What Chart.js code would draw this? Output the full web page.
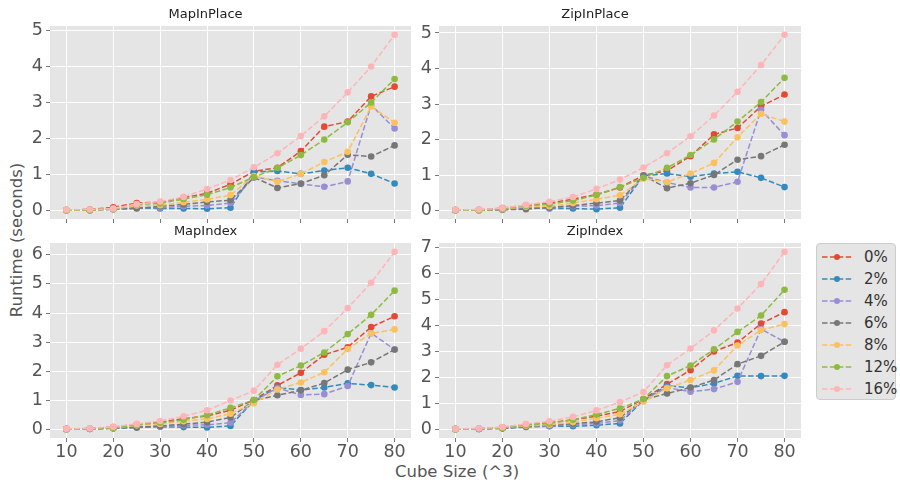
<!DOCTYPE html>
<html>
<head>
<meta charset="utf-8">
<script src="https://cdn.jsdelivr.net/npm/chart.js@4/dist/chart.umd.min.js"></script>
<style>
  body { margin: 0; background: #fff; font-family: 'DejaVu Sans', sans-serif; }
  #fig { position: relative; width: 900px; height: 488px; overflow: hidden; }
  #fig canvas { position: absolute; }
  .label { position: absolute; color: #555; font-size: 16.5px; white-space: nowrap; }
  #ylabel { left: 16px; top: 240px; transform: translate(-50%, -50%) rotate(-90deg); }
  #xlabel { left: 457px; top: 471px; transform: translate(-50%, -50%); }
  #legend { position: absolute; left: 816px; top: 243px; width: 80px; height: 157px;
            background: #E5E5E5; border: 1px solid #ccc; border-radius: 4px; box-sizing: border-box; }
  .row { position: absolute; left: 5px; height: 20px; display: flex; align-items: center; }
  .row span { margin-left: 12px; font-size: 15px; color: #333; }
</style>
</head>
<body>
<div id="fig">
  <div class="label" id="ylabel">Runtime (seconds)</div>
  <div class="label" id="xlabel">Cube Size (^3)</div>
  <div id="legend"></div>
</div>
<script>
// cube sizes on the x axis
const sizes = [10, 15, 20, 25, 30, 35, 40, 45, 50, 55, 60, 65, 70, 75, 80];
const xTicks = [10, 20, 30, 40, 50, 60, 70, 80];
const seriesNames = ['0%', '2%', '4%', '6%', '8%', '12%', '16%'];
const colors = ['#E24A33', '#348ABD', '#988ED5', '#777777', '#FBC15E', '#8EBA42', '#FFB5B8'];

// runtimes, one row per series (same order as seriesNames)
const mapInPlace = [
  [0.03, 0.04, 0.10, 0.22, 0.24, 0.37, 0.49, 0.74, 1.10, 1.20, 1.66, 2.34, 2.48, 3.18, 3.45],
  [0.02, 0.02, 0.05, 0.08, 0.07, 0.07, 0.06, 0.09, 1.08, 1.11, 1.03, 1.12, 1.20, 1.03, 0.76],
  [0.02, 0.02, 0.05, 0.10, 0.09, 0.13, 0.15, 0.22, 0.94, 0.84, 0.75, 0.67, 0.82, 2.94, 2.29],
  [0.02, 0.02, 0.05, 0.07, 0.13, 0.18, 0.25, 0.30, 0.93, 0.64, 0.76, 0.99, 1.56, 1.51, 1.82],
  [0.02, 0.02, 0.05, 0.15, 0.16, 0.24, 0.32, 0.44, 0.97, 0.81, 1.03, 1.36, 1.64, 2.90, 2.45],
  [0.02, 0.02, 0.07, 0.18, 0.21, 0.33, 0.45, 0.65, 0.94, 1.19, 1.55, 1.98, 2.46, 3.01, 3.66],
  [0.03, 0.04, 0.07, 0.19, 0.26, 0.39, 0.61, 0.86, 1.21, 1.60, 2.08, 2.63, 3.29, 4.01, 4.89]
];
const zipInPlace = [
  [0.03, 0.03, 0.08, 0.16, 0.22, 0.33, 0.46, 0.66, 1.00, 1.13, 1.54, 2.15, 2.33, 2.94, 3.27],
  [0.02, 0.02, 0.05, 0.08, 0.07, 0.07, 0.05, 0.09, 0.99, 1.05, 0.96, 1.05, 1.10, 0.93, 0.67],
  [0.02, 0.02, 0.05, 0.10, 0.08, 0.13, 0.15, 0.22, 0.99, 0.80, 0.66, 0.66, 0.82, 2.84, 2.13],
  [0.02, 0.02, 0.03, 0.05, 0.10, 0.15, 0.22, 0.29, 0.99, 0.64, 0.78, 1.01, 1.44, 1.54, 1.86],
  [0.02, 0.02, 0.05, 0.12, 0.13, 0.22, 0.33, 0.44, 0.91, 0.81, 1.05, 1.35, 2.07, 2.73, 2.51],
  [0.02, 0.02, 0.06, 0.14, 0.19, 0.29, 0.45, 0.67, 0.93, 1.21, 1.57, 2.01, 2.51, 3.06, 3.74],
  [0.03, 0.04, 0.08, 0.17, 0.26, 0.39, 0.62, 0.88, 1.22, 1.62, 2.10, 2.68, 3.35, 4.10, 4.95]
];
const mapIndex = [
  [0.03, 0.04, 0.09, 0.18, 0.26, 0.38, 0.47, 0.67, 1.02, 1.52, 1.95, 2.57, 2.83, 3.52, 3.89],
  [0.02, 0.03, 0.05, 0.08, 0.10, 0.09, 0.08, 0.13, 1.00, 1.45, 1.36, 1.45, 1.59, 1.53, 1.45],
  [0.02, 0.03, 0.05, 0.10, 0.11, 0.15, 0.17, 0.24, 0.99, 1.43, 1.19, 1.22, 1.50, 3.31, 2.75],
  [0.02, 0.03, 0.05, 0.08, 0.13, 0.19, 0.26, 0.42, 1.00, 1.18, 1.35, 1.60, 2.06, 2.31, 2.75],
  [0.02, 0.03, 0.06, 0.15, 0.20, 0.29, 0.37, 0.55, 0.91, 1.38, 1.62, 1.97, 2.77, 3.30, 3.44],
  [0.02, 0.03, 0.07, 0.17, 0.24, 0.34, 0.50, 0.75, 1.02, 1.83, 2.20, 2.65, 3.28, 3.94, 4.77],
  [0.03, 0.05, 0.10, 0.20, 0.30, 0.46, 0.67, 1.00, 1.34, 2.23, 2.78, 3.38, 4.17, 5.04, 6.10]
];
const zipIndex = [
  [0.03, 0.04, 0.09, 0.20, 0.27, 0.38, 0.52, 0.70, 1.18, 1.75, 2.29, 3.01, 3.35, 4.08, 4.52],
  [0.02, 0.03, 0.05, 0.10, 0.13, 0.13, 0.17, 0.24, 1.14, 1.69, 1.61, 1.78, 2.07, 2.06, 2.07],
  [0.02, 0.03, 0.06, 0.12, 0.14, 0.19, 0.24, 0.35, 1.14, 1.62, 1.46, 1.56, 1.84, 3.87, 3.38],
  [0.02, 0.03, 0.05, 0.12, 0.17, 0.23, 0.30, 0.46, 1.15, 1.39, 1.62, 1.91, 2.52, 2.84, 3.38],
  [0.02, 0.03, 0.07, 0.15, 0.19, 0.29, 0.44, 0.59, 1.08, 1.59, 1.91, 2.28, 3.24, 3.83, 4.06],
  [0.02, 0.03, 0.08, 0.18, 0.24, 0.38, 0.58, 0.82, 1.18, 2.06, 2.47, 3.09, 3.76, 4.39, 5.38],
  [0.03, 0.05, 0.10, 0.22, 0.32, 0.49, 0.74, 1.06, 1.45, 2.48, 3.12, 3.82, 4.66, 5.60, 6.84]
];

const yTicksInPlace = [0, 1, 2, 3, 4, 5];
const yTicksMapIndex = [0, 1, 2, 3, 4, 5, 6];
const yTicksZipIndex = [0, 1, 2, 3, 4, 5, 6, 7];

// gray panel background like the ggplot style
const panelBg = {
  id: 'panelBg',
  beforeDraw(chart) {
    const a = chart.chartArea;
    const ctx = chart.ctx;
    ctx.save();
    ctx.fillStyle = '#E5E5E5';
    ctx.fillRect(a.left, a.top, a.right - a.left, a.bottom - a.top);
    ctx.restore();
  }
};

const Y_W = 50, TITLE_H = 24, X_H = 30, PAD_R = 20;

function makePanel(title, rows, yTicks, box, showX) {
  const fig = document.getElementById('fig');
  const cv = document.createElement('canvas');
  const w = box.x1 - box.x0 + Y_W + PAD_R;
  const h = box.y1 - box.y0 + TITLE_H + X_H;
  cv.width = w; cv.height = h;
  cv.style.left = (box.x0 - Y_W) + 'px';
  cv.style.top = (box.y0 - TITLE_H) + 'px';
  cv.style.width = w + 'px'; cv.style.height = h + 'px';
  fig.appendChild(cv);

  // autoscale with 5% margins
  const all = rows.flat();
  const lo = Math.min(...all), hi = Math.max(...all);
  const m = (hi - lo) * 0.05;
  const xm = (sizes[sizes.length - 1] - sizes[0]) * 0.05;

  const datasets = rows.map((vals, i) => ({
    label: seriesNames[i],
    data: vals.map((v, j) => ({ x: sizes[j], y: v })),
    borderColor: colors[i],
    backgroundColor: colors[i],
    borderWidth: 1.5,
    borderDash: [5.5, 2.4],
    pointRadius: 3.3,
    pointBorderWidth: 0,
    pointHoverRadius: 3.3,
    tension: 0,
    order: rows.length - 1 - i
  }));

  const tickFont = { family: 'DejaVu Sans', size: 17.5 };

  new Chart(cv, {
    type: 'line',
    data: { datasets },
    plugins: [panelBg],
    options: {
      responsive: false,
      animation: false,
      devicePixelRatio: 1,
      layout: { padding: { left: 0, top: 0, right: PAD_R, bottom: 0 } },
      plugins: {
        legend: { display: false },
        tooltip: { enabled: false },
        title: {
          display: true,
          text: title,
          color: '#222',
          font: { family: 'DejaVu Sans', size: 13, weight: 'normal', lineHeight: 1.2 },
          padding: { top: 5, bottom: 3.4 }
        }
      },
      scales: {
        x: {
          type: 'linear',
          min: sizes[0] - xm,
          max: sizes[sizes.length - 1] + xm,
          afterBuildTicks: s => { s.ticks = xTicks.map(v => ({ value: v })); },
          afterFit: s => { s.height = X_H; s.paddingLeft = 0; s.paddingRight = 0; },
          border: { display: false },
          grid: { color: '#fff', lineWidth: 1, tickColor: '#555', tickLength: 4, tickWidth: 0.8 },
          ticks: { display: showX, autoSkip: false, maxRotation: 0, color: '#555', font: tickFont, padding: 0 }
        },
        y: {
          type: 'linear',
          min: lo - m,
          max: hi + m,
          afterBuildTicks: s => { s.ticks = yTicks.map(v => ({ value: v })); },
          afterFit: s => { s.width = Y_W; s.paddingTop = 0; s.paddingBottom = 0; },
          border: { display: false },
          grid: { color: '#fff', lineWidth: 1, tickColor: '#555', tickLength: 4, tickWidth: 0.8 },
          ticks: { autoSkip: false, color: '#555', font: tickFont, padding: 3 }
        }
      }
    }
  });
}

makePanel('MapInPlace', mapInPlace, yTicksInPlace, { x0: 50, y0: 26, x1: 411, y1: 219 }, false);
makePanel('ZipInPlace', zipInPlace, yTicksInPlace, { x0: 439, y0: 26, x1: 801, y1: 219 }, false);
makePanel('MapIndex', mapIndex, yTicksMapIndex, { x0: 50, y0: 243, x1: 411, y1: 438 }, true);
makePanel('ZipIndex', zipIndex, yTicksZipIndex, { x0: 439, y0: 243, x1: 801, y1: 438 }, true);

// shared legend
const legend = document.getElementById('legend');
seriesNames.forEach((name, i) => {
  const row = document.createElement('div');
  row.className = 'row';
  row.style.top = (3 + i * 22) + 'px';
  row.innerHTML =
    '<svg width="30" height="10"><line x1="0" y1="5" x2="30" y2="5" stroke="' + colors[i] +
    '" stroke-width="1.5" stroke-dasharray="5.5 2.4"/><circle cx="15" cy="5" r="3" fill="' + colors[i] +
    '"/></svg><span>' + name + '</span>';
  legend.appendChild(row);
});
</script>
</body>
</html>
